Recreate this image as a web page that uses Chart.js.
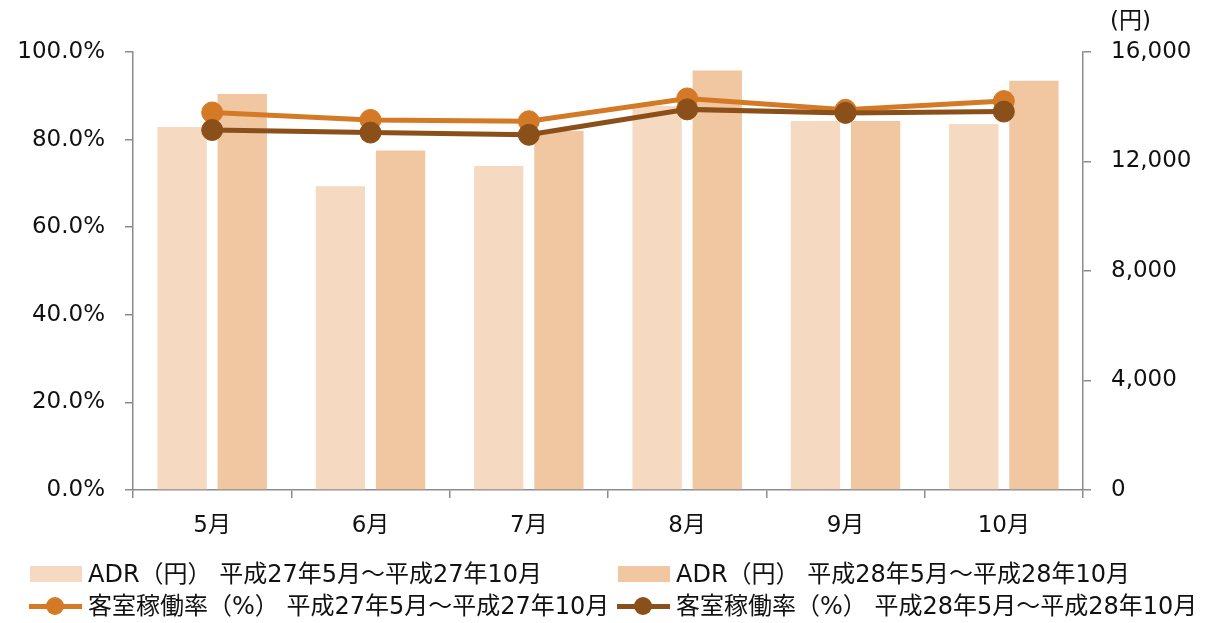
<!DOCTYPE html>
<html lang="ja">
<head>
<meta charset="utf-8">
<title>ADR・客室稼働率</title>
<script src="https://cdn.jsdelivr.net/npm/chart.js@4/dist/chart.umd.min.js"></script>
<style>
  html, body { margin: 0; padding: 0; background: #fff; }
  #wrap { position: relative; width: 1211px; height: 623px; overflow: hidden;
          font-family: "DejaVu Sans", "Noto Sans CJK JP", sans-serif; color: #111; }
  #chart { position: absolute; left: 0; top: 0; }
  #unit { position: absolute; left: 1110px; top: 5px; font-size: 23px; line-height: 30px; }
  .lg { position: absolute; font-size: 24px; line-height: 30px; white-space: nowrap; }
  .sw { position: absolute; }
</style>
</head>
<body>
<div id="wrap">
  <canvas id="chart" width="1211" height="623"></canvas>
  <div id="unit">(円)</div>
  <div id="legend"></div>
</div>
<script>
// 月別カテゴリ
const months = ['5月', '6月', '7月', '8月', '9月', '10月'];

// ADR（円）
const adr2015 = [13260, 11100, 11840, 14030, 13480, 13370];
const adr2016 = [14470, 12400, 13110, 15320, 13480, 14950];

// 客室稼働率（%）
const occ2015 = [86.2, 84.5, 84.2, 89.4, 86.8, 88.8];
const occ2016 = [82.2, 81.6, 81.1, 86.9, 86.1, 86.4];

// 凡例テキスト
const seriesNames = [
  'ADR（円） 平成27年5月～平成27年10月',
  'ADR（円） 平成28年5月～平成28年10月',
  '客室稼働率（%） 平成27年5月～平成27年10月',
  '客室稼働率（%） 平成28年5月～平成28年10月'
];

// 目盛り
const pctTicks = [0, 20, 40, 60, 80, 100];
const yenTicks = [0, 4000, 8000, 12000, 16000];

const colors = {
  adr2015: '#F5D9C1',
  adr2016: '#F0C7A1',
  occ2015: '#D47A27',
  occ2016: '#8B5019',
  axis: '#8C8C8C',
  text: '#111111'
};

const FONT = '"DejaVu Sans", "Noto Sans CJK JP", sans-serif';
Chart.defaults.font.family = FONT;
Chart.defaults.font.size = 23;
Chart.defaults.color = colors.text;

const axisGrid = {
  drawOnChartArea: false,
  drawTicks: true,
  tickLength: 8,
  color: colors.axis,
  lineWidth: 1.5
};
const axisBorder = { display: true, color: colors.axis, width: 1.5 };

new Chart(document.getElementById('chart'), {
  type: 'bar',
  data: {
    labels: months,
    datasets: [
      {
        type: 'line', label: seriesNames[3], data: occ2016, yAxisID: 'y', order: 0,
        borderColor: colors.occ2016, backgroundColor: colors.occ2016,
        borderWidth: 5, pointRadius: 10.5, pointBorderWidth: 1,
        pointBackgroundColor: colors.occ2016, pointBorderColor: colors.occ2016,
        tension: 0, fill: false
      },
      {
        type: 'line', label: seriesNames[2], data: occ2015, yAxisID: 'y', order: 1,
        borderColor: colors.occ2015, backgroundColor: colors.occ2015,
        borderWidth: 5, pointRadius: 10.5, pointBorderWidth: 1,
        pointBackgroundColor: colors.occ2015, pointBorderColor: colors.occ2015,
        tension: 0, fill: false
      },
      {
        type: 'bar', label: seriesNames[0], data: adr2015, yAxisID: 'y1', order: 2,
        backgroundColor: colors.adr2015, borderWidth: 0,
        categoryPercentage: 0.76, barPercentage: 0.82
      },
      {
        type: 'bar', label: seriesNames[1], data: adr2016, yAxisID: 'y1', order: 2,
        backgroundColor: colors.adr2016, borderWidth: 0,
        categoryPercentage: 0.76, barPercentage: 0.82
      }
    ]
  },
  options: {
    responsive: false,
    animation: false,
    devicePixelRatio: 1,
    layout: { padding: { top: 52, bottom: 83, left: 0, right: 0 } },
    plugins: {
      legend: { display: false },
      tooltip: { enabled: false }
    },
    scales: {
      x: {
        offset: true,
        grid: Object.assign({ offset: true }, axisGrid),
        border: axisBorder,
        ticks: { padding: 14, color: colors.text, maxRotation: 0 },
        afterFit: s => { s.height = 50; }
      },
      y: {
        position: 'left',
        min: 0, max: 100,
        grid: axisGrid,
        border: axisBorder,
        afterBuildTicks: s => { s.ticks = pctTicks.map(v => ({ value: v })); },
        ticks: { padding: 20, color: colors.text, callback: v => v.toFixed(1) + '%' },
        afterFit: s => { s.width = 133; }
      },
      y1: {
        position: 'right',
        min: 0, max: 16000,
        grid: axisGrid,
        border: axisBorder,
        afterBuildTicks: s => { s.ticks = yenTicks.map(v => ({ value: v })); },
        ticks: { padding: 20, color: colors.text, callback: v => v.toLocaleString('en-US') },
        afterFit: s => { s.width = 128; }
      }
    }
  }
});

// 凡例（2行×2列）
const legend = document.getElementById('legend');
const items = [
  { name: seriesNames[0], kind: 'box',  color: colors.adr2015, x: 30,  y: 574 },
  { name: seriesNames[1], kind: 'box',  color: colors.adr2016, x: 618, y: 574 },
  { name: seriesNames[2], kind: 'line', color: colors.occ2015, x: 29,  y: 606 },
  { name: seriesNames[3], kind: 'line', color: colors.occ2016, x: 617, y: 606 }
];
items.forEach(it => {
  if (it.kind === 'box') {
    const b = document.createElement('div');
    b.className = 'sw';
    Object.assign(b.style, { left: it.x + 'px', top: (it.y - 8) + 'px', width: '52px', height: '16px', background: it.color });
    legend.appendChild(b);
  } else {
    const l = document.createElement('div');
    l.className = 'sw';
    Object.assign(l.style, { left: it.x + 'px', top: (it.y - 2.5) + 'px', width: '53px', height: '5px', background: it.color });
    legend.appendChild(l);
    const c = document.createElement('div');
    c.className = 'sw';
    Object.assign(c.style, { left: (it.x + 26 - 9) + 'px', top: (it.y - 9) + 'px', width: '18px', height: '18px', borderRadius: '50%', background: it.color });
    legend.appendChild(c);
  }
  const t = document.createElement('div');
  t.className = 'lg';
  t.textContent = it.name;
  Object.assign(t.style, { left: (it.kind === 'box' ? it.x + 58 : it.x + 59) + 'px', top: (it.y - 15) + 'px' });
  legend.appendChild(t);
});
</script>
</body>
</html>
